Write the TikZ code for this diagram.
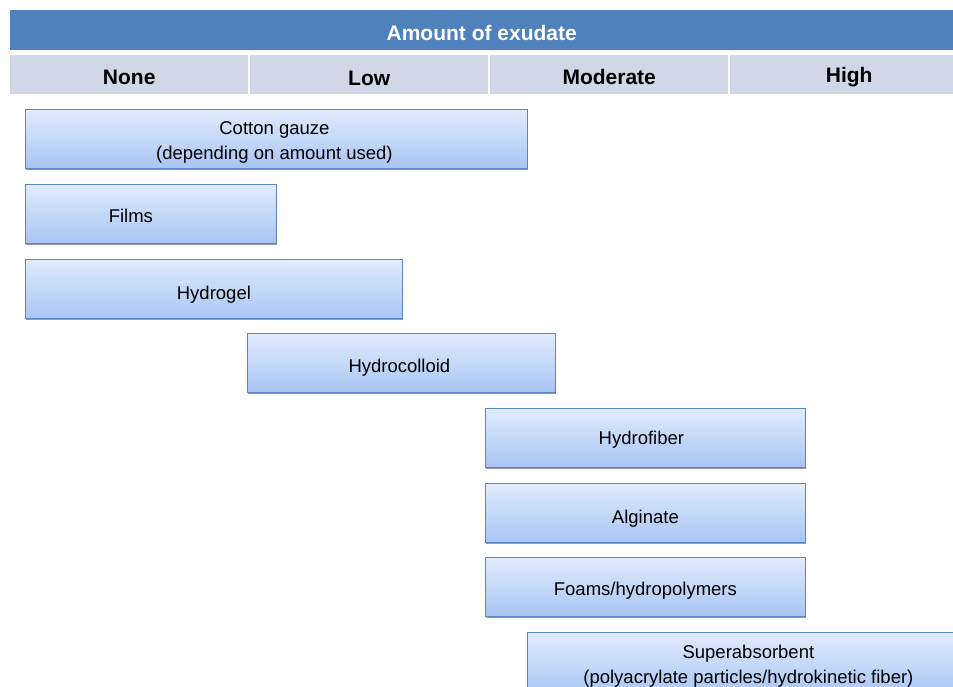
\documentclass[tikz,border=0pt]{standalone}
\usepackage{fontspec}
\setmainfont{Liberation Sans}
\usetikzlibrary{shadows}
\definecolor{hdr}{HTML}{4F81BD}
\definecolor{sub}{HTML}{D0D8E8}
\definecolor{boxborder}{HTML}{5A86C3}
\definecolor{boxtop}{HTML}{E1EBFC}
\definecolor{boxbot}{HTML}{A8C5F4}
\newcommand{\lowered}[2]{\raisebox{-#1pt}[\height][\depth]{\begin{tabular}{@{}c@{}}#2\end{tabular}}}
\tikzset{
  box/.style={draw=boxborder, line width=0.8pt, top color=boxtop, bottom color=boxbot,
    minimum height=59pt, inner sep=0pt, anchor=north west, align=center,
    font=\fontsize{18.5}{25}\selectfont, text=black,
    general shadow={fill=black!40, shadow xshift=0.6pt, shadow yshift=-1.6pt}},
  hcell/.style={fill=sub, minimum height=39pt, inner sep=0pt, anchor=north west,
    font=\fontsize{21}{24}\selectfont\bfseries, text=black},
  title/.style={fill=hdr, minimum height=40pt, inner sep=0pt, anchor=north west,
    font=\fontsize{21}{24}\selectfont\bfseries, text=white}
}
\begin{document}
\begin{tikzpicture}[x=1pt,y=-1pt]
\clip (0,0) rectangle (953,687);
\fill[white] (0,0) rectangle (953,687);
\node[title, minimum width=943pt] (t) at (10,10) {\lowered{6}{Amount of exudate}};
\node[hcell, minimum width=238pt] (none) at (10,55) {\lowered{5}{None}};
\node[hcell, minimum width=238pt] (low) at (250,55) {\lowered{6}{Low}};
\node[hcell, minimum width=238pt] (mod) at (490,55) {\lowered{5}{Moderate}};
\node[hcell, minimum width=223pt] (high) at (730,55) {\lowered{3}{\hspace*{15pt}High}};
\node[box, minimum width=502pt] (cotton) at (25,109) {\lowered{3}{\hspace*{-4pt}Cotton gauze\\\hspace*{-4pt}(depending on amount used)}};
\node[box, minimum width=251pt] (films) at (25,184) {\lowered{4}{\hspace*{-40pt}Films}};
\node[box, minimum width=377pt] (hydrogel) at (25,259) {\lowered{6}{Hydrogel}};
\node[box, minimum width=308pt] (hcoll) at (247,333) {\lowered{5}{\hspace*{-4pt}Hydrocolloid}};
\node[box, minimum width=320pt] (hfib) at (485,408) {\lowered{2}{\hspace*{-8pt}Hydrofiber}};
\node[box, minimum width=320pt] (alg) at (485,483) {\lowered{6}{Alginate}};
\node[box, minimum width=320pt] (foam) at (485,557) {\lowered{4}{Foams/hydropolymers}};
\node[box, minimum width=430pt, minimum height=64pt] (super) at (527,632) {\lowered{2}{\hspace*{12pt}Superabsorbent\\\hspace*{12pt}(polyacrylate particles/hydrokinetic fiber)}};
\end{tikzpicture}
\end{document}
